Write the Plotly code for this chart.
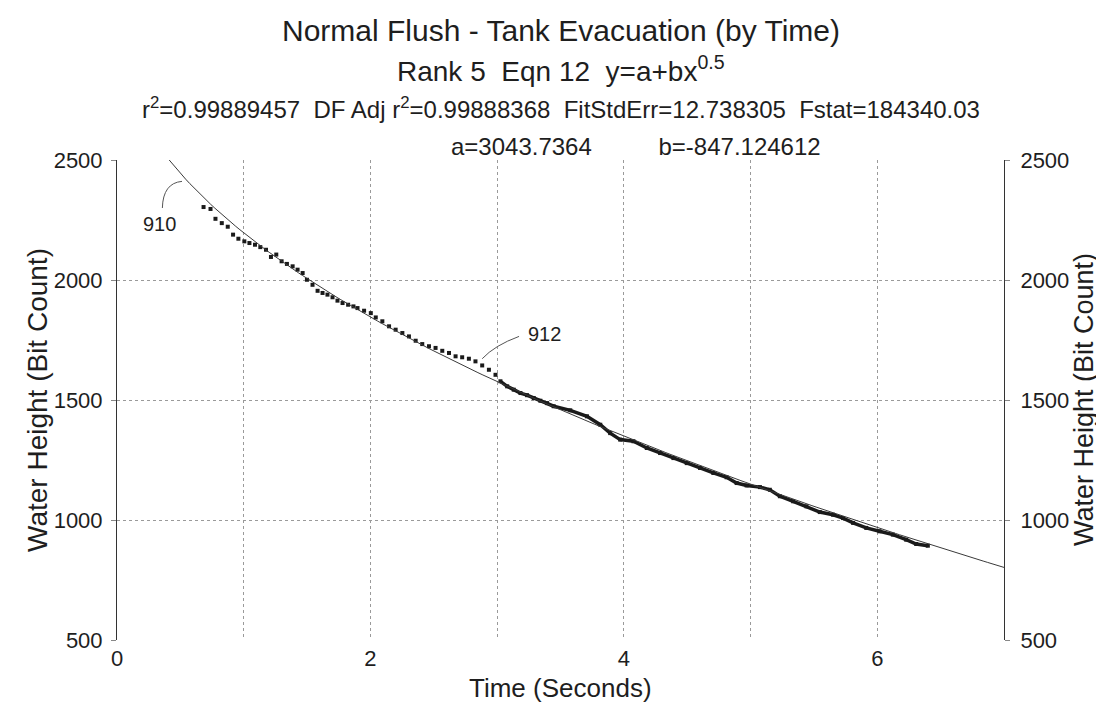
import plotly.graph_objects as go

# Fit coefficients (from the chart subtitle)
a_coef = 3043.7364
b_coef = -847.124612

t_data = [0.683, 0.738, 0.777, 0.827, 0.874, 0.916, 0.958, 1.005, 1.045, 1.089,
          1.131, 1.176, 1.215, 1.257, 1.299, 1.341, 1.386, 1.425, 1.465, 1.499,
          1.543, 1.583, 1.622, 1.661, 1.701, 1.740, 1.780, 1.824, 1.866, 1.898,
          1.950, 2.003, 2.042, 2.094, 2.147, 2.199, 2.252, 2.304, 2.357, 2.409,
          2.462, 2.514, 2.567, 2.620, 2.672, 2.724, 2.777, 2.829, 2.882, 2.935,
          2.987]
h_data = [2304, 2296, 2255, 2237, 2222, 2189, 2172, 2161, 2154, 2147,
          2137, 2126, 2096, 2106, 2078, 2067, 2057, 2043, 2029, 2001,
          1980, 1955, 1946, 1939, 1928, 1914, 1904, 1897, 1890, 1883,
          1872, 1862, 1844, 1828, 1807, 1793, 1779, 1765, 1747, 1733,
          1724, 1717, 1705, 1696, 1682, 1678, 1672, 1661, 1644, 1626,
          1605]

# Dense later part (points overlap into a band)
t_dense = [3.026, 3.079, 3.131, 3.184, 3.236, 3.289, 3.341, 3.394, 3.446, 3.577,
           3.709, 3.814, 3.892, 3.971, 4.076, 4.181, 4.286, 4.391, 4.496, 4.601,
           4.706, 4.811, 4.890, 4.969, 5.074, 5.152, 5.231, 5.336, 5.441, 5.546,
           5.651, 5.730, 5.809, 5.913, 6.018, 6.123, 6.228, 6.307, 6.399]
h_dense = [1578, 1557, 1543, 1529, 1520, 1508, 1497, 1487, 1474, 1457,
           1432, 1397, 1362, 1335, 1328, 1300, 1279, 1258, 1237, 1217,
           1196, 1178, 1154, 1144, 1137, 1126, 1099, 1078, 1057, 1033,
           1022, 1008, 988, 967, 953, 939, 918, 900, 893]

# Fit curve y = a + b*x^0.5 evaluated on a time grid
t_fit_start = 0.41
t_fit = [t_fit_start + i * (7.0 - t_fit_start) / 200 for i in range(201)]
h_fit = [a_coef + b_coef * (t ** 0.5) for t in t_fit]

x_tickvals = [0, 2, 4, 6]
x_ticktext = ["0", "2", "4", "6"]
y_tickvals = [500, 1000, 1500, 2000, 2500]

FONT = "Liberation Sans, Arial, sans-serif"
INK = "#1e1e1e"
GRID = "#9a9a9a"

fig = go.Figure()
fig.add_trace(go.Scatter(x=t_fit, y=h_fit, mode="lines",
                         line=dict(color="#3a3a3a", width=1), yaxis="y2",
                         hoverinfo="skip", showlegend=False))
fig.add_trace(go.Scatter(x=t_data, y=h_data, mode="markers",
                         marker=dict(symbol="square", size=4, color="#1a1a1a"),
                         showlegend=False))
fig.add_trace(go.Scatter(x=t_dense, y=h_dense, mode="lines+markers",
                         line=dict(color="#1a1a1a", width=3.5),
                         marker=dict(symbol="square", size=4, color="#1a1a1a"),
                         showlegend=False))

grid = dict(showgrid=True, gridcolor=GRID, gridwidth=1, griddash="dot")

fig.update_layout(
    width=1104, height=702,
    margin=dict(l=109, r=108, t=152, b=70),
    paper_bgcolor="white", plot_bgcolor="white",
    font=dict(family=FONT, color=INK, size=20),
    xaxis=dict(range=[0, 7], tickvals=x_tickvals, ticktext=x_ticktext,
               tickfont=dict(size=22), ticks="", ticklabelstandoff=3, zeroline=False,
               showline=False,
               minor=dict(dtick=1, tick0=0, showgrid=True, gridcolor=GRID,
                          griddash="dot", gridwidth=1, ticks=""),
               **grid),
    yaxis=dict(range=[500, 2500], tickvals=y_tickvals,
               tickfont=dict(size=22), ticks="outside", ticklen=5, tickcolor="#888888",
               ticklabelstandoff=4,
               showline=True, linecolor="#333333", linewidth=1, zeroline=False,
               **grid),
    yaxis2=dict(range=[500, 2500], tickvals=y_tickvals, overlaying="y", side="right",
                tickfont=dict(size=22), ticks="outside", ticklen=5, tickcolor="#888888",
                ticklabelstandoff=6,
                showline=True, linecolor="#333333", linewidth=1, zeroline=False,
                showgrid=False),
)

# Titles
fig.add_annotation(text="Normal Flush - Tank Evacuation (by Time)", xref="paper", yref="paper",
                   x=0.5, y=1, yshift=130, showarrow=False, font=dict(size=30), yanchor="middle")
fig.add_annotation(text="Rank 5  Eqn 12  y=a+bx<sup>0.5</sup>", xref="paper", yref="paper",
                   x=0.5, y=1, yshift=91, showarrow=False, font=dict(size=28), yanchor="middle")
fig.add_annotation(text="r<sup>2</sup>=0.99889457  DF Adj r<sup>2</sup>=0.99888368  FitStdErr=12.738305  Fstat=184340.03",
                   xref="paper", yref="paper", x=0.5, y=1, yshift=52, showarrow=False,
                   font=dict(size=24), yanchor="middle")
fig.add_annotation(text="a=3043.7364          b=-847.124612", xref="paper", yref="paper",
                   x=0.585, y=1, yshift=14, showarrow=False, font=dict(size=24), yanchor="middle")

# Axis titles
fig.add_annotation(text="Time (Seconds)", xref="paper", yref="paper", x=0.5, y=0,
                   yshift=-48, showarrow=False, font=dict(size=26), yanchor="middle")
fig.add_annotation(text="Water Height (Bit Count)", xref="paper", yref="paper", x=0, y=0.5,
                   xshift=-80, textangle=-90, showarrow=False, font=dict(size=28),
                   xanchor="center", yanchor="middle")
fig.add_annotation(text="Water Height (Bit Count)", xref="paper", yref="paper", x=1, y=0.5,
                   xshift=80, textangle=-90, showarrow=False, font=dict(size=27),
                   xanchor="center", yanchor="middle")

# Leader labels
fig.add_annotation(text="910", x=0.337, y=2235, showarrow=False, font=dict(size=20))
fig.add_shape(type="path", path="M 0.358,2300 Q 0.363,2404 0.513,2411",
              line=dict(color="#555555", width=1))
fig.add_annotation(text="912", x=3.375, y=1775, showarrow=False, font=dict(size=20))
fig.add_shape(type="path", path="M 3.173,1765 Q 2.981,1728 2.882,1672",
              line=dict(color="#555555", width=1))

fig.write_html("out.html")
